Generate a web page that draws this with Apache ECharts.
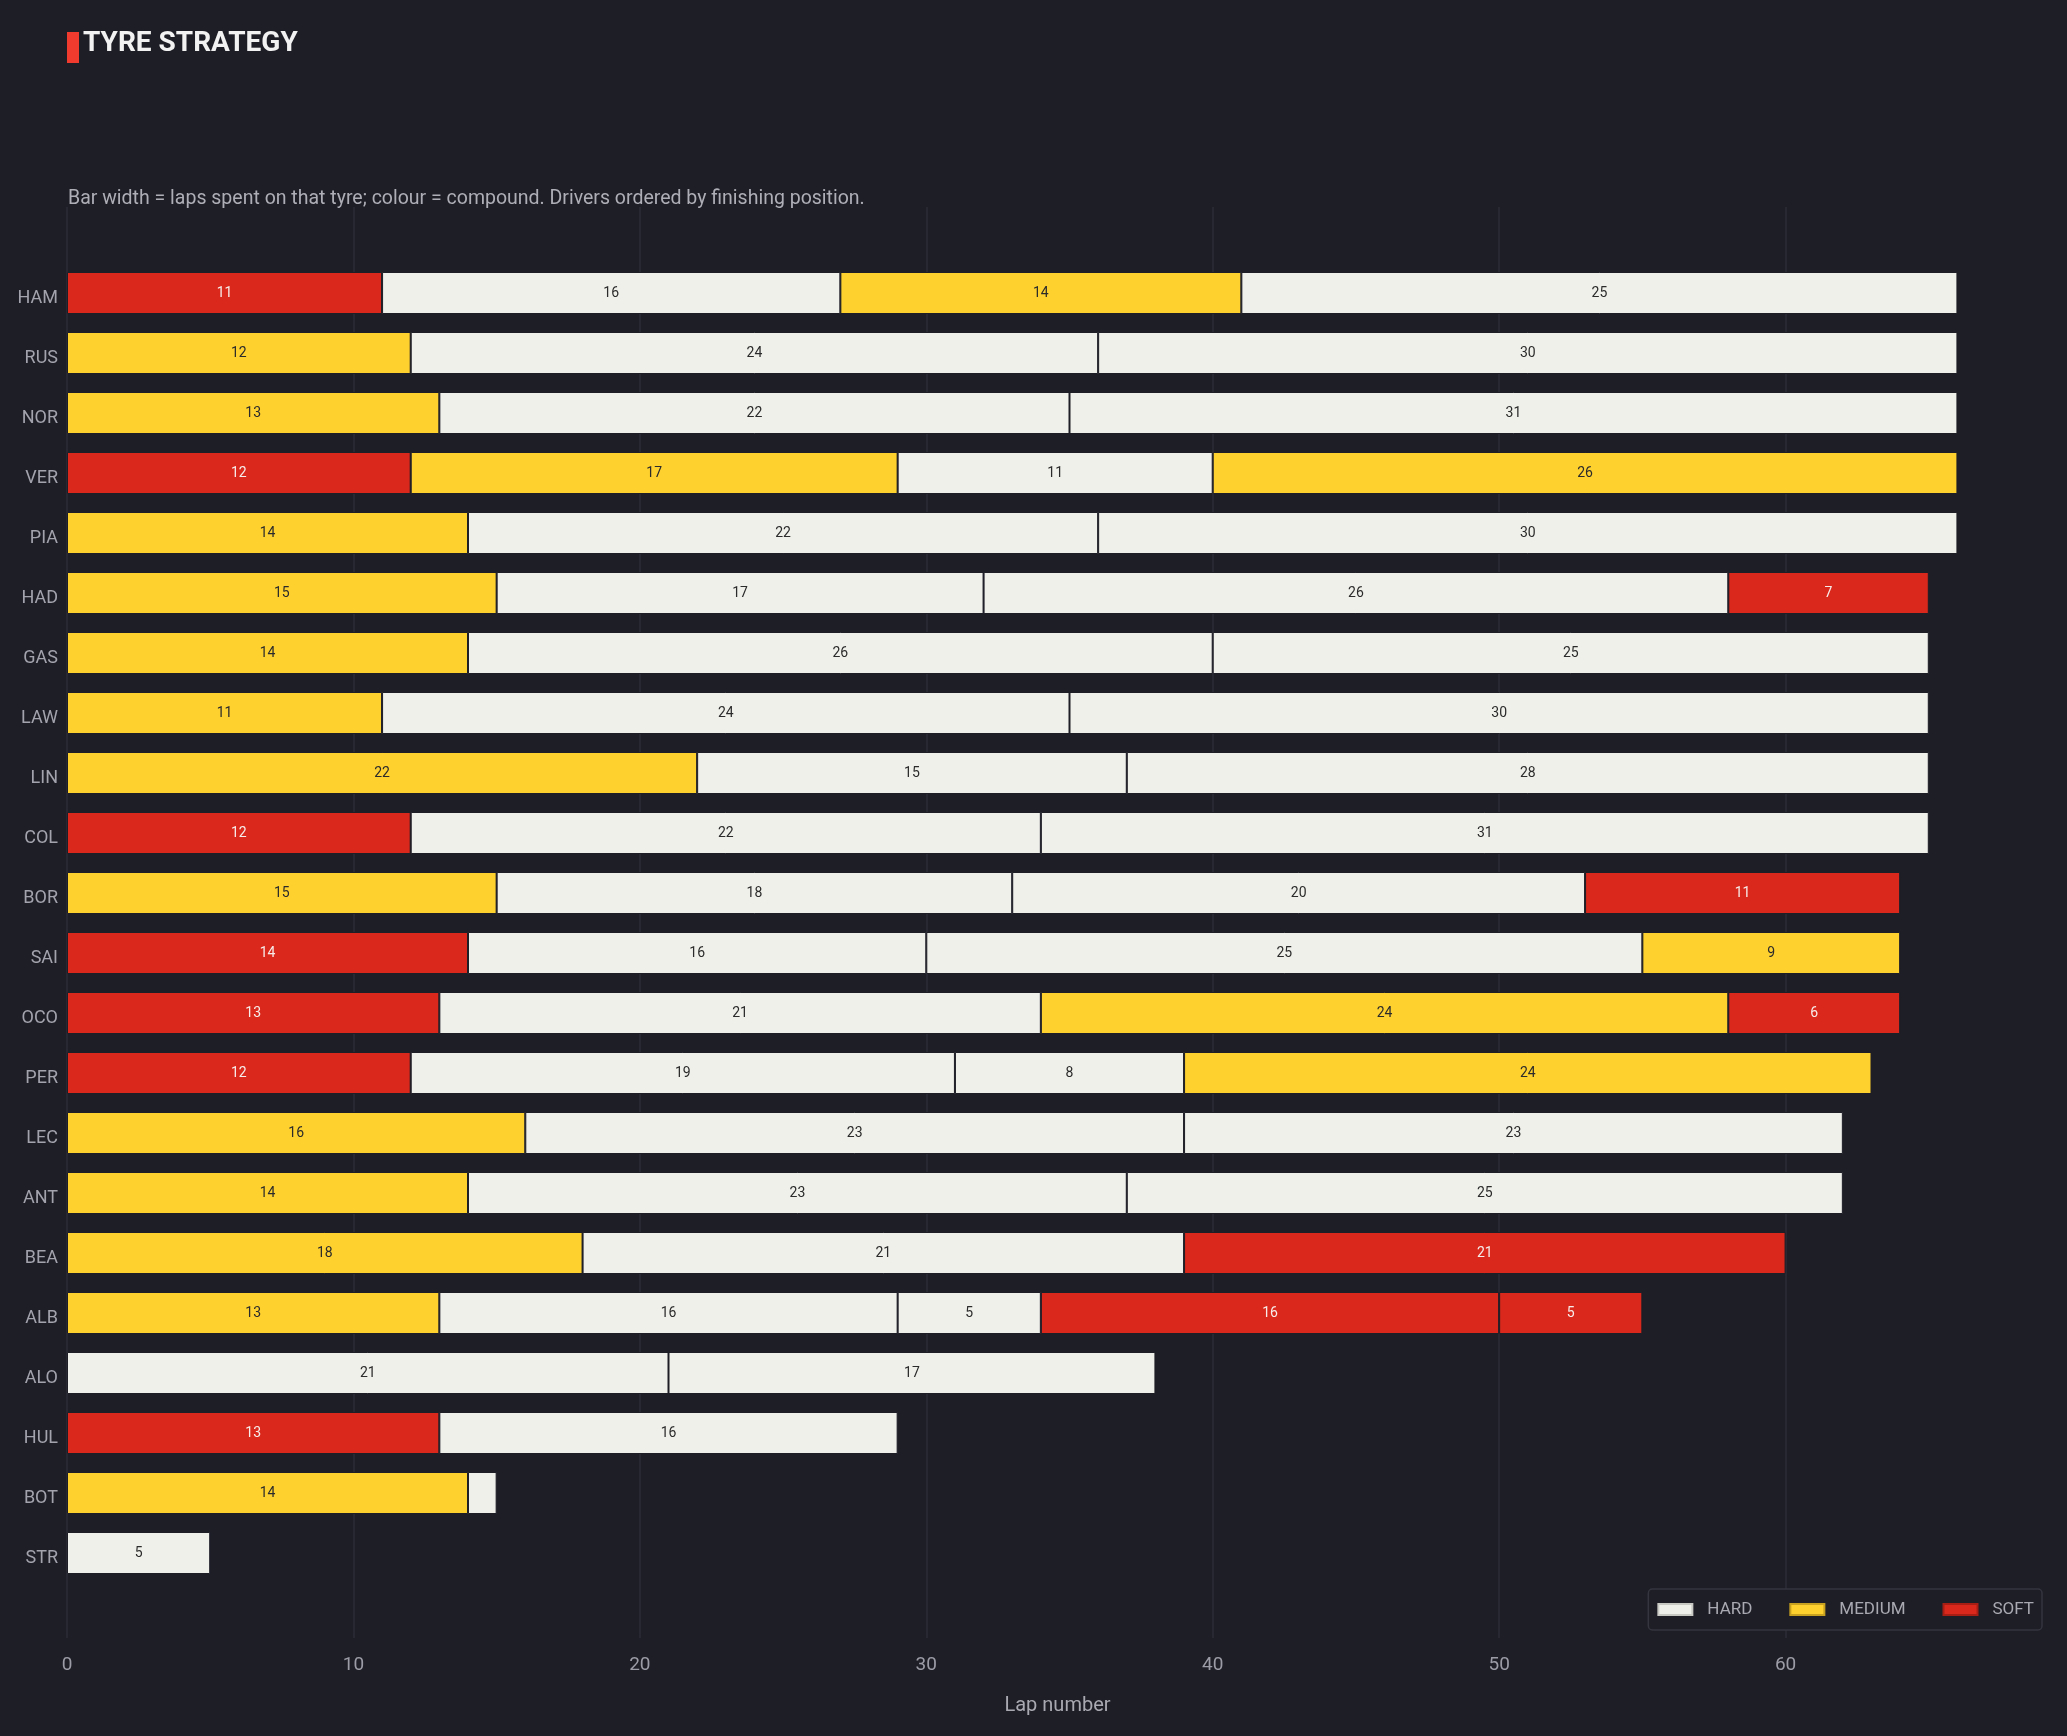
<!DOCTYPE html>
<html>
<head>
<meta charset="utf-8">
<title>Tyre strategy</title>
<script src="https://cdn.jsdelivr.net/npm/echarts@6/dist/echarts.min.js"></script>
<style>
  html, body { margin: 0; padding: 0; background: #1e1e27; }
  #chart { width: 2067px; height: 1736px; }
</style>
</head>
<body>
<div id="chart"></div>
<script>
// drivers, finishing order
var drivers = ['HAM', 'RUS', 'NOR', 'VER', 'PIA', 'HAD', 'GAS', 'LAW', 'LIN', 'COL', 'BOR',
               'SAI', 'OCO', 'PER', 'LEC', 'ANT', 'BEA', 'ALB', 'ALO', 'HUL', 'BOT', 'STR'];

// one pair of arrays per stint: compound + laps ('-' = no such stint)
var stint1Tyre = ['S', 'M', 'M', 'S', 'M', 'M', 'M', 'M', 'M', 'S', 'M', 'S', 'S', 'S', 'M', 'M', 'M', 'M', 'H', 'S', 'M', 'H'];
var stint1Laps = [11, 12, 13, 12, 14, 15, 14, 11, 22, 12, 15, 14, 13, 12, 16, 14, 18, 13, 21, 13, 14, 5];

var stint2Tyre = ['H', 'H', 'H', 'M', 'H', 'H', 'H', 'H', 'H', 'H', 'H', 'H', 'H', 'H', 'H', 'H', 'H', 'H', 'H', 'H', 'H', '-'];
var stint2Laps = [16, 24, 22, 17, 22, 17, 26, 24, 15, 22, 18, 16, 21, 19, 23, 23, 21, 16, 17, 16, 1, '-'];

var stint3Tyre = ['M', 'H', 'H', 'H', 'H', 'H', 'H', 'H', 'H', 'H', 'H', 'H', 'M', 'H', 'H', 'H', 'S', 'H', '-', '-', '-', '-'];
var stint3Laps = [14, 30, 31, 11, 30, 26, 25, 30, 28, 31, 20, 25, 24, 8, 23, 25, 21, 5, '-', '-', '-', '-'];

var stint4Tyre = ['H', '-', '-', 'M', '-', 'S', '-', '-', '-', '-', 'S', 'M', 'S', 'M', '-', '-', '-', 'S', '-', '-', '-', '-'];
var stint4Laps = [25, '-', '-', 26, '-', 7, '-', '-', '-', '-', 11, 9, 6, 24, '-', '-', '-', 16, '-', '-', '-', '-'];

var stint5Tyre = ['-', '-', '-', '-', '-', '-', '-', '-', '-', '-', '-', '-', '-', '-', '-', '-', '-', 'S', '-', '-', '-', '-'];
var stint5Laps = ['-', '-', '-', '-', '-', '-', '-', '-', '-', '-', '-', '-', '-', '-', '-', '-', '-', 5, '-', '-', '-', '-'];

var xTicks = [0, 10, 20, 30, 40, 50, 60];

var compoundNames = { H: 'HARD', M: 'MEDIUM', S: 'SOFT' };
var compoundColors = { H: '#f0f0eb', M: '#ffd12e', S: '#da291c' };
var compoundBorders = { H: '#c9c9c4', M: '#c9a21f', S: '#a81e14' };
var labelColors = { H: '#2b2b2b', M: '#2b2b2b', S: '#f7ecea' };

var FONT = 'Roboto';

function stintSeries(name, tyres, laps) {
  var data = laps.map(function (v, i) {
    if (v === '-') return '-';
    var t = tyres[i];
    return {
      value: v,
      itemStyle: { color: compoundColors[t] },
      label: { show: v >= 3, color: labelColors[t] }
    };
  });
  return {
    name: name,
    type: 'bar',
    stack: 'laps',
    xAxisIndex: 0,
    yAxisIndex: 0,
    barWidth: 42,
    itemStyle: { borderColor: '#1e1e27', borderWidth: 1 },
    label: {
      show: true,
      position: 'inside',
      fontFamily: FONT,
      fontSize: 14
    },
    emphasis: { disabled: true },
    data: data
  };
}

var series = [
  stintSeries('stint1', stint1Tyre, stint1Laps),
  stintSeries('stint2', stint2Tyre, stint2Laps),
  stintSeries('stint3', stint3Tyre, stint3Laps),
  stintSeries('stint4', stint4Tyre, stint4Laps),
  stintSeries('stint5', stint5Tyre, stint5Laps)
];

// legend entries only
['H', 'M', 'S'].forEach(function (t) {
  series.push({
    name: compoundNames[t],
    type: 'bar',
    stack: 'laps',
    xAxisIndex: 0,
    yAxisIndex: 0,
    itemStyle: { color: compoundColors[t], borderColor: compoundBorders[t], borderWidth: 1 },
    data: []
  });
});

var chart = echarts.init(document.getElementById('chart'));
var option = {
  backgroundColor: '#1e1e27',
  animation: false,
  title: [{
    text: 'TYRE STRATEGY',
    left: 83,
    top: 30,
    padding: 0,
    textStyle: { color: '#f2f2f2', fontFamily: FONT, fontSize: 28, fontWeight: 'bold', lineHeight: 28 }
  }, {
    text: 'Bar width = laps spent on that tyre; colour = compound. Drivers ordered by finishing position.',
    left: 68,
    top: 189,
    padding: 0,
    textStyle: { color: '#aeaeb7', fontFamily: FONT, fontSize: 19.5, fontWeight: 'normal', lineHeight: 20 }
  }],
  graphic: [{
    type: 'rect',
    shape: { x: 67, y: 32, width: 12, height: 31 },
    style: { fill: '#f23b2f' }
  }],
  legend: {
    data: ['HARD', 'MEDIUM', 'SOFT'],
    right: 25,
    top: 1589,
    icon: 'rect',
    itemWidth: 34,
    itemHeight: 11,
    itemGap: 37,
    padding: [12, 8, 12, 9],
    backgroundColor: '#1e1e27',
    borderColor: '#34353f',
    borderWidth: 1.5,
    borderRadius: 4,
    selectedMode: false,
    textStyle: { color: '#a9a9b2', fontFamily: FONT, fontSize: 17, padding: [0, 0, 0, 10] }
  },
  grid: [
    { left: 67, width: 2005, top: 263, bottom: 153, outerBoundsMode: 'none' },
    { left: 67, width: 2005, top: 207, bottom: 98, outerBoundsMode: 'none' }
  ],
  xAxis: [{
    type: 'value',
    gridIndex: 0,
    min: 0,
    max: 70,
    show: false
  }, {
    type: 'value',
    gridIndex: 1,
    min: xTicks[0],
    max: 70,
    interval: 10,
    axisLine: { show: false },
    axisTick: { show: false },
    splitLine: { show: true, lineStyle: { color: '#2c2d38', width: 1.5 } },
    axisLabel: {
      color: '#9c9ca6', fontFamily: FONT, fontSize: 19, margin: 18,
      showMaxLabel: false,
      formatter: function (v) { return xTicks.indexOf(v) >= 0 ? String(v) : ''; }
    },
    name: 'Lap number',
    nameLocation: 'middle',
    nameGap: 58,
    nameTextStyle: { color: '#a9a9b2', fontFamily: FONT, fontSize: 20, padding: [0, 24, 0, 0] }
  }],
  yAxis: [{
    type: 'category',
    gridIndex: 0,
    data: drivers,
    inverse: true,
    axisLine: { show: false },
    axisTick: { show: false },
    splitLine: { show: false },
    axisLabel: {
      color: '#a3a3ad', fontFamily: FONT, fontSize: 18, margin: 9,
      verticalAlign: 'top', lineHeight: 10
    }
  }, {
    type: 'value',
    gridIndex: 1,
    min: 0,
    max: 1,
    show: false
  }],
  series: series
};
chart.setOption(option);
window.onresize = function () { chart.resize(); };
</script>
</body>
</html>
